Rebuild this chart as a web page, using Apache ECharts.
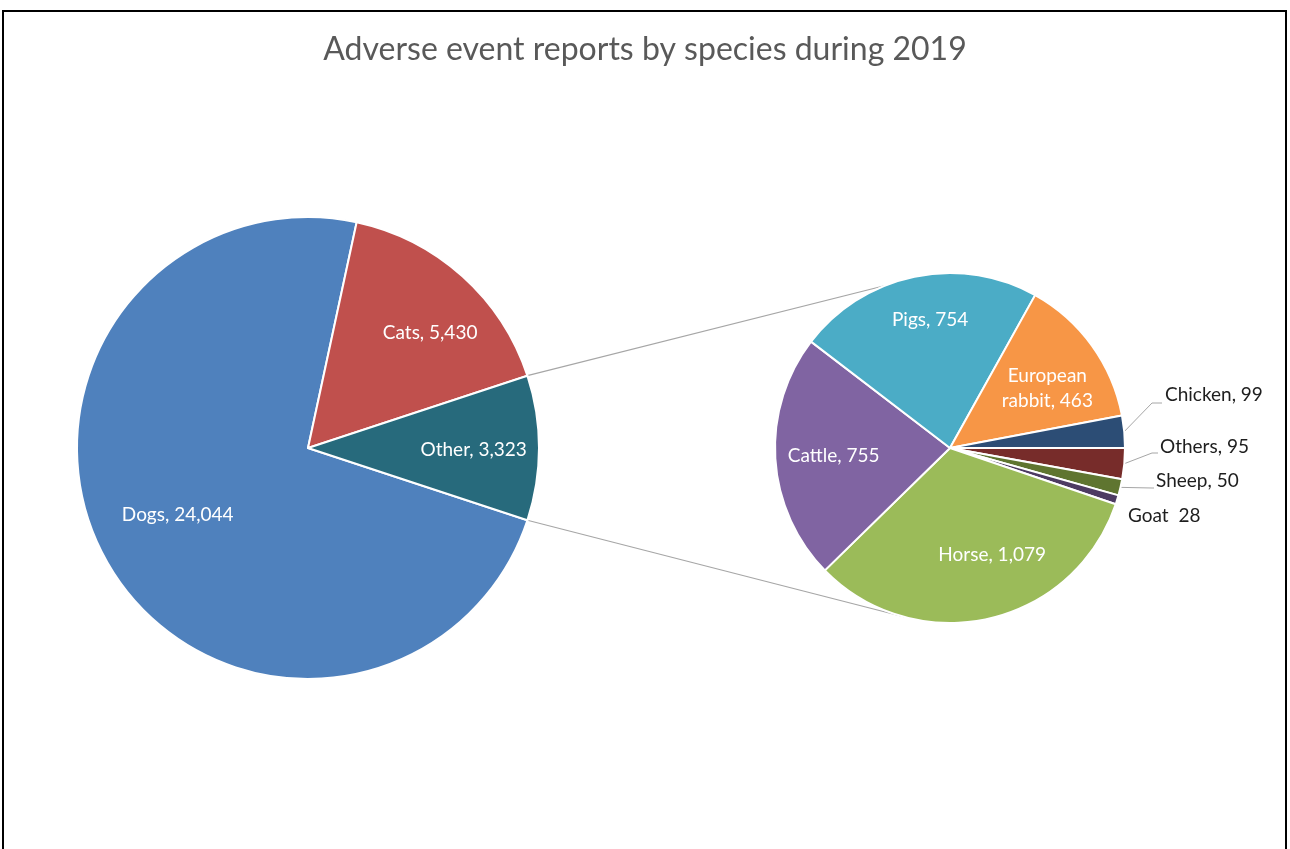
<!DOCTYPE html>
<html>
<head>
<meta charset="utf-8">
<script src="https://cdn.jsdelivr.net/npm/echarts@6/dist/echarts.min.js"></script>
<style>
  html, body { margin: 0; padding: 0; background: #fff; }
  #chart { position: absolute; left: 0; top: 0; width: 1290px; height: 849px; }
  #frame {
    position: absolute; left: 2px; top: 10px; width: 1285px; height: 860px;
    border: 2px solid #000; border-bottom: none; box-sizing: border-box;
    pointer-events: none;
  }
</style>
</head>
<body>
<div id="chart"></div>
<div id="frame"></div>
<script>
// Reports by species, 2019
const mainNames  = ['Dogs', 'Cats', 'Other'];
const mainValues = [24044, 5430, 3323];

// Breakdown of the "Other" group
const subNames  = ['Others', 'Sheep', 'Goat', 'Horse', 'Cattle', 'Pigs', 'European rabbit', 'Chicken'];
const subValues = [95, 50, 28, 1079, 755, 754, 463, 99];

const mainColors = ['#4F81BD', '#C0504D', '#276A7C'];
const subColors  = ['#772C2A', '#5F7530', '#4D3B62', '#9BBB59', '#8064A2', '#4BACC6', '#F79646', '#2C4D75'];

// Pie geometry
const MAIN = { cx: 308, cy: 448, r: 231, labelK: 0.70 };
const SUB  = { cx: 950, cy: 448, r: 175, labelK: 0.70 };

const sum = arr => arr.reduce((a, b) => a + b, 0);
const otherIndex = mainNames.indexOf('Other');
// centre the "Other" slice on the horizontal axis facing the second pie
const mainStart = -(mainValues[otherIndex] / sum(mainValues)) * 180;
const subStart = 0;

function midAngles(values, start) {
  const total = sum(values);
  let a = start;
  return values.map(v => {
    const span = v / total * 360;
    const mid = a - span / 2;
    a -= span;
    return mid;
  });
}
const mainMids = midAngles(mainValues, mainStart);
const subMids = midAngles(subValues, subStart);

const fmt = v => v.toLocaleString('en-US');
const FONT = 'Lato';

// Fine nudges (px) for the inside labels, applied after radial placement
const LABEL_NUDGE = {
  'Dogs': [10, -13], 'Cats': [14, 5], 'Other': [4, 2],
  'Pigs': [5, -8], 'European rabbit': [-2, 12], 'Cattle': [6, 0], 'Horse': [15, -13]
};

// Small slices whose labels sit outside the pie (offsets from the pie centre)
const OUTER_LABELS = {
  'Chicken': { dx: 215, dy: -53, line: [[202, -45], [212, -45]] },
  'Others':  { dx: 210, dy: -1,  line: [[202, 5], [208, 5]] },
  'Sheep':   { dx: 206, dy: 33,  line: [[202, 40], [204, 40]] },
  'Goat':    { dx: 178, dy: 68,  line: null }
};

function labelText(name, value) {
  if (name === 'Goat') return name + '  ' + fmt(value);
  return name.replace('European ', 'European\n') + ', ' + fmt(value);
}

function insidePos(geo, mid, name) {
  const a = mid * Math.PI / 180;
  const n = LABEL_NUDGE[name] || [0, 0];
  return {
    x: geo.cx + geo.labelK * geo.r * Math.cos(a) + n[0],
    y: geo.cy - geo.labelK * geo.r * Math.sin(a) + n[1],
    align: 'center', verticalAlign: 'middle'
  };
}

const mainData = mainNames.map((n, i) => ({
  name: n, value: mainValues[i], itemStyle: { color: mainColors[i] }
}));

const subData = subNames.map((n, i) => {
  const item = { name: n, value: subValues[i], itemStyle: { color: subColors[i] } };
  const o = OUTER_LABELS[n];
  if (o) {
    item.label = { position: 'outside', color: '#1e1e1e' };
    item.labelLine = { show: !!o.line };
  }
  return item;
});

// Connector lines from the edges of "Other" to the second pie
const halfOther = (mainValues[otherIndex] / sum(mainValues)) * Math.PI;
const CONNECT_ANGLES = [112, -105];
function ptOn(geo, rad) { return [geo.cx + geo.r * Math.cos(rad), geo.cy - geo.r * Math.sin(rad)]; }
const connectors = [
  [ptOn(MAIN, halfOther), ptOn(SUB, CONNECT_ANGLES[0] * Math.PI / 180)],
  [ptOn(MAIN, -halfOther), ptOn(SUB, CONNECT_ANGLES[1] * Math.PI / 180)]
].map(([p, q]) => ({
  type: 'line', z: 0,
  shape: { x1: p[0], y1: p[1], x2: q[0], y2: q[1] },
  style: { stroke: '#A6A6A6', lineWidth: 1.2 }
}));

const chart = echarts.init(document.getElementById('chart'), null, { renderer: 'canvas' });
chart.setOption({
  animation: false,
  backgroundColor: '#fff',
  title: {
    text: 'Adverse event reports by species during 2019',
    left: 'center', top: 29,
    textStyle: { color: '#595959', fontSize: 32, fontWeight: 'normal', fontFamily: FONT }
  },
  graphic: connectors,
  series: [
    {
      type: 'pie',
      center: [MAIN.cx, MAIN.cy],
      radius: MAIN.r,
      startAngle: mainStart,
      clockwise: true,
      avoidLabelOverlap: false,
      silent: true,
      itemStyle: { borderColor: '#fff', borderWidth: 2 },
      label: {
        position: 'inside', color: '#fff', fontSize: 19, fontFamily: FONT,
        formatter: p => labelText(p.name, p.value)
      },
      labelLine: { show: false },
      labelLayout: p => insidePos(MAIN, mainMids[p.dataIndex], mainNames[p.dataIndex]),
      data: mainData
    },
    {
      type: 'pie',
      center: [SUB.cx, SUB.cy],
      radius: SUB.r,
      startAngle: subStart,
      clockwise: true,
      avoidLabelOverlap: false,
      silent: true,
      itemStyle: { borderColor: '#fff', borderWidth: 2 },
      label: {
        position: 'inside', color: '#fff', fontSize: 19, lineHeight: 25, fontFamily: FONT,
        formatter: p => labelText(p.name, p.value)
      },
      labelLine: { show: false, lineStyle: { color: '#A6A6A6', width: 1 } },
      labelLayout: p => {
        const name = subNames[p.dataIndex];
        const o = OUTER_LABELS[name];
        if (!o) return insidePos(SUB, subMids[p.dataIndex], name);
        const res = { x: SUB.cx + o.dx, y: SUB.cy + o.dy, align: 'left', verticalAlign: 'middle' };
        if (o.line) {
          const a = subMids[p.dataIndex] * Math.PI / 180;
          res.labelLinePoints = [
            [SUB.cx + SUB.r * Math.cos(a), SUB.cy - SUB.r * Math.sin(a)],
            [SUB.cx + o.line[0][0], SUB.cy + o.line[0][1]],
            [SUB.cx + o.line[1][0], SUB.cy + o.line[1][1]]
          ];
        }
        return res;
      },
      data: subData
    }
  ]
});
</script>
</body>
</html>
